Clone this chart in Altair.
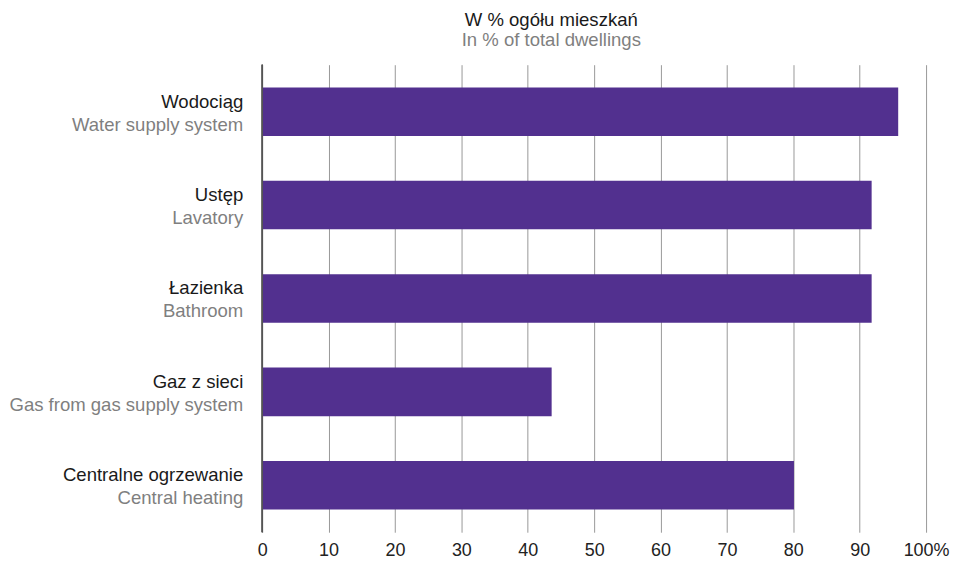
import altair as alt
import pandas as pd

pl_labels = ["Wodociąg", "Ustęp", "Łazienka", "Gaz z sieci", "Centralne ogrzewanie"]
en_labels = ["Water supply system", "Lavatory", "Bathroom", "Gas from gas supply system", "Central heating"]
values = [95.8, 91.8, 91.8, 43.6, 80.1]
ticks = [0, 10, 20, 30, 40, 50, 60, 70, 80, 90, 100]

df = pd.DataFrame({"pl": pl_labels, "en": en_labels, "value": values})

FONT = "Liberation Sans"
FS = 18.6
y_enc = alt.Y("pl:N", sort=pl_labels, axis=None,
              scale=alt.Scale(paddingInner=0.48, paddingOuter=0.243))

x_enc = alt.X("value:Q", scale=alt.Scale(domain=[0, 100], nice=False),
              axis=alt.Axis(values=ticks, title=None, grid=True, gridColor="#999999",
                            gridWidth=1, ticks=False, domain=False,
                            labelExpr="datum.value == 100 ? '100%' : datum.label",
                            labelFont=FONT, labelFontSize=18, labelColor="#222222",
                            labelPadding=9, labelFlush=False))

bars = alt.Chart(df).mark_bar(color="#52308F").encode(x=x_enc, y=y_enc)

zero = alt.Chart(df).mark_rule(color="#555555", strokeWidth=1).encode(
    x=alt.value(0), y=alt.value(0), y2=alt.value(469))

pl_text = alt.Chart(df).mark_text(align="right", baseline="middle", dy=-10,
                                  font=FONT, fontSize=FS, color="#1a1a1a").encode(
    x=alt.value(-19), y=y_enc, text="pl:N")
en_text = alt.Chart(df).mark_text(align="right", baseline="middle", dy=13,
                                  font=FONT, fontSize=FS, color="#7f7f7f").encode(
    x=alt.value(-19), y=y_enc, text="en:N")

chart = alt.layer(bars, zero, pl_text, en_text).properties(
    width=666, height=469,
    padding={"left": 255, "top": 56, "right": 25, "bottom": 31},
    autosize=alt.AutoSizeParams(type="none"),
    title=alt.TitleParams(text="W % ogółu mieszkań", subtitle="In % of total dwellings",
                          font=FONT, fontSize=18.6, fontWeight="normal", color="#1a1a1a",
                          subtitleFont=FONT, subtitleFontSize=18.6, subtitleColor="#7f7f7f",
                          subtitlePadding=1, anchor="middle", dx=-43, offset=15),
).configure_view(stroke=None)

chart.save("out.html", embed_options={"renderer": "svg", "actions": False})
